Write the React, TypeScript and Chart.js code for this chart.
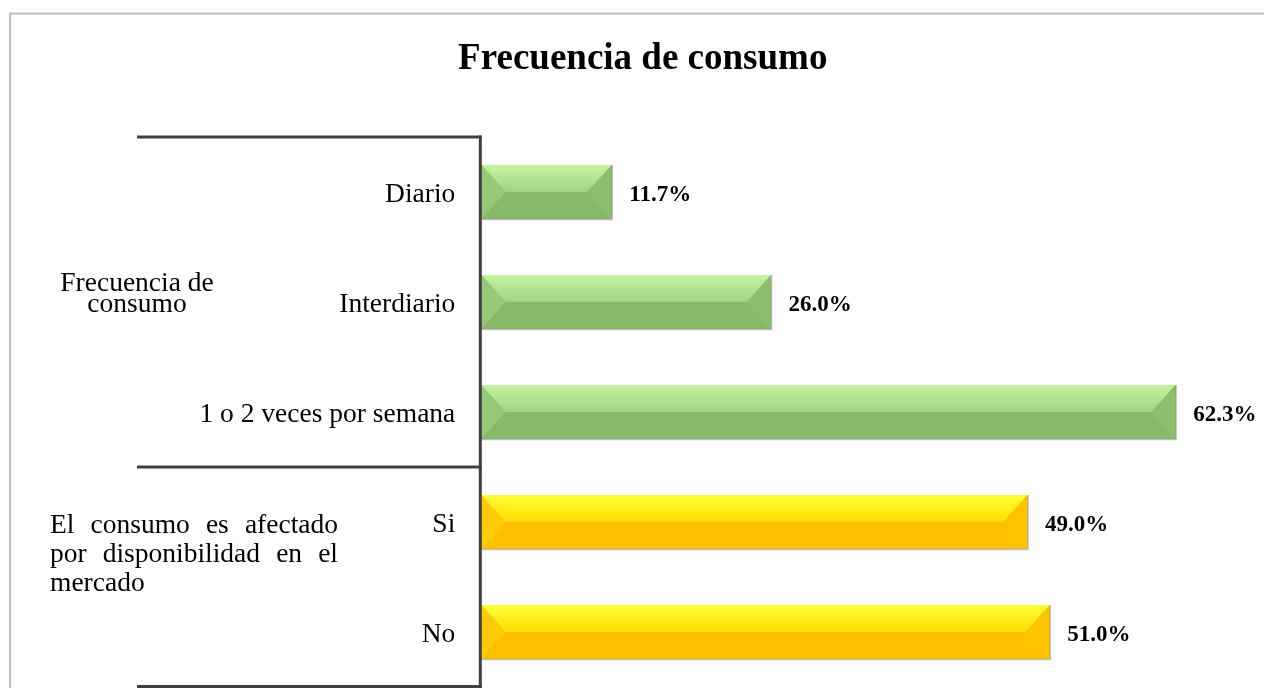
import { useEffect, useRef } from 'react';
import { Chart, registerables } from 'chart.js';

Chart.register(...registerables);

const TITLE = 'Frecuencia de consumo';
const categories = ['Diario', 'Interdiario', '1 o 2 veces por semana', 'Si', 'No'];
const values = [11.7, 26.0, 62.3, 49.0, 51.0];
const barKinds = ['green', 'green', 'green', 'yellow', 'yellow'];
const groupLines = [
  ['Frecuencia de', 'consumo'],
  ['El consumo es afectado', 'por disponibilidad en el', 'mercado'],
];
const groupFirst = [0, 3];
const groupLast = [2, 4];
const X_MAX = 70;

const SERIF = "'Liberation Serif', 'Times New Roman', Times, serif";
const PAD_LEFT = 24;

const PALETTE: Record<string, any> = {
  green: { base: '#86b968', top: '#c6f4a1', topLow: '#a0d382', left: '#95c977', right: '#8bbf6d' },
  yellow: { base: '#ffc000', top: '#ffff3a', topLow: '#ffdc00', left: '#ffca08', right: '#ffc400' },
};

const framePlugin = {
  id: 'frame',
  beforeDraw(chart: any) {
    const { ctx, width, height } = chart;
    ctx.save();
    ctx.fillStyle = '#ffffff';
    ctx.fillRect(0, 0, width, height);
    ctx.strokeStyle = '#bfbfbf';
    ctx.lineWidth = 2;
    ctx.beginPath();
    ctx.moveTo(10, height);
    ctx.lineTo(10, 13.5);
    ctx.lineTo(width, 13.5);
    ctx.stroke();
    ctx.restore();
  },
};

function drawJustified(ctx: CanvasRenderingContext2D, text: string, x: number, y: number, w: number) {
  const words = text.split(' ');
  const widths = words.map((t) => ctx.measureText(t).width);
  const sum = widths.reduce((a, b) => a + b, 0);
  const gap = words.length > 1 ? (w - sum) / (words.length - 1) : 0;
  let cx = x;
  words.forEach((t, i) => {
    ctx.fillText(t, cx, y);
    cx += widths[i] + gap;
  });
}

const decorPlugin = {
  id: 'decor',
  afterDatasetsDraw(chart: any) {
    const { ctx, chartArea } = chart;
    const yScale = chart.scales.y;
    const meta = chart.getDatasetMeta(0);
    ctx.save();
    // bevelled bars
    meta.data.forEach((bar: any, i: number) => {
      const p = bar.getProps(['x', 'y', 'base', 'height'], true);
      const L = p.base;
      const R = p.x;
      const T = p.y - p.height / 2;
      const B = p.y + p.height / 2;
      const M = p.y;
      const b = Math.min(p.height * 0.45, (R - L) / 2);
      const pal = PALETTE[barKinds[i]];
      ctx.fillStyle = pal.base;
      ctx.fillRect(L, T, R - L, B - T);
      const g = ctx.createLinearGradient(0, T, 0, M);
      g.addColorStop(0, pal.top);
      g.addColorStop(1, pal.topLow);
      ctx.fillStyle = g;
      ctx.beginPath();
      ctx.moveTo(L, T);
      ctx.lineTo(R, T);
      ctx.lineTo(R - b, M);
      ctx.lineTo(L + b, M);
      ctx.closePath();
      ctx.fill();
      ctx.fillStyle = pal.left;
      ctx.beginPath();
      ctx.moveTo(L, T);
      ctx.lineTo(L + b, M);
      ctx.lineTo(L, B);
      ctx.closePath();
      ctx.fill();
      ctx.fillStyle = pal.right;
      ctx.beginPath();
      ctx.moveTo(R, T);
      ctx.lineTo(R - b, M);
      ctx.lineTo(R, B);
      ctx.closePath();
      ctx.fill();
      ctx.strokeStyle = 'rgba(120,120,120,0.45)';
      ctx.lineWidth = 1.5;
      ctx.beginPath();
      ctx.moveTo(R + 0.5, T);
      ctx.lineTo(R + 0.5, B + 0.5);
      ctx.lineTo(L, B + 0.5);
      ctx.stroke();
      // value label
      ctx.fillStyle = '#000000';
      ctx.font = `bold 23px ${SERIF}`;
      ctx.textAlign = 'left';
      ctx.textBaseline = 'middle';
      ctx.fillText(`${values[i].toFixed(1)}%`, R + 17.5, M + 3);
    });

    // axis line and group separators
    ctx.strokeStyle = '#404040';
    ctx.lineWidth = 3;
    const axisX = chartArea.left - 1;
    ctx.beginPath();
    ctx.moveTo(axisX, chartArea.top - 1.5);
    ctx.lineTo(axisX, chart.height);
    ctx.stroke();
    const seps = [yScale.getPixelForValue(groupFirst[0] - 0.5)];
    groupLast.forEach((g) => seps.push(yScale.getPixelForValue(g + 0.5)));
    seps.forEach((sy) => {
      const yy = Math.min(sy, chart.height - 1.5);
      ctx.beginPath();
      ctx.moveTo(137, yy);
      ctx.lineTo(axisX + 1.5, yy);
      ctx.stroke();
    });

    // group labels
    ctx.fillStyle = '#000000';
    ctx.font = `27.5px ${SERIF}`;
    ctx.textBaseline = 'alphabetic';
    const g1mid = yScale.getPixelForValue((groupFirst[0] + groupLast[0]) / 2);
    ctx.textAlign = 'center';
    ctx.fillText(groupLines[0][0], 137, g1mid - 11);
    ctx.fillText(groupLines[0][1], 137, g1mid + 10);
    const g2first = yScale.getPixelForValue(groupFirst[1]);
    ctx.textAlign = 'left';
    drawJustified(ctx, groupLines[1][0], 50, g2first + 11, 288);
    drawJustified(ctx, groupLines[1][1], 50, g2first + 40, 288);
    ctx.fillText(groupLines[1][2], 50, g2first + 69);
    ctx.restore();
  },
};

export default function App() {
  const ref = useRef<HTMLCanvasElement | null>(null);
  useEffect(() => {
    if (!ref.current) return;
    const chart = new Chart(ref.current, {
      type: 'bar',
      data: {
        labels: categories,
        datasets: [
          {
            data: values,
            backgroundColor: barKinds.map((k) => PALETTE[k].base),
            borderWidth: 0,
            categoryPercentage: 1,
            barPercentage: 0.49,
          },
        ],
      },
      options: {
        indexAxis: 'y',
        animation: false,
        responsive: false,
        maintainAspectRatio: false,
        layout: { padding: { left: PAD_LEFT, right: 2.5, top: 0, bottom: 1 } },
        plugins: {
          legend: { display: false },
          tooltip: { enabled: false },
          title: {
            display: true,
            text: TITLE,
            color: '#000000',
            font: { family: SERIF, size: 37, weight: 'bold', lineHeight: 1.2 },
            padding: { top: 37, bottom: 55.6 },
          },
        },
        scales: {
          x: { display: false, min: 0, max: X_MAX },
          y: {
            type: 'category',
            grid: { display: false, drawTicks: false },
            border: { display: false },
            ticks: {
              color: '#000000',
              padding: 26,
              labelOffset: 3,
              font: { family: SERIF, size: 27.5 },
            },
            afterFit(scale: any) {
              scale.width = 481.3 - PAD_LEFT;
              scale.paddingTop = 0;
              scale.paddingBottom = 0;
            },
          },
        },
      },
      plugins: [framePlugin, decorPlugin],
    });
    return () => chart.destroy();
  }, []);
  return (
    <div style={{ position: 'absolute', left: 0, top: 0, width: 1264, height: 688 }}>
      <canvas ref={ref} width={1264} height={688} style={{ display: 'block', width: 1264, height: 688 }} />
    </div>
  );
}
